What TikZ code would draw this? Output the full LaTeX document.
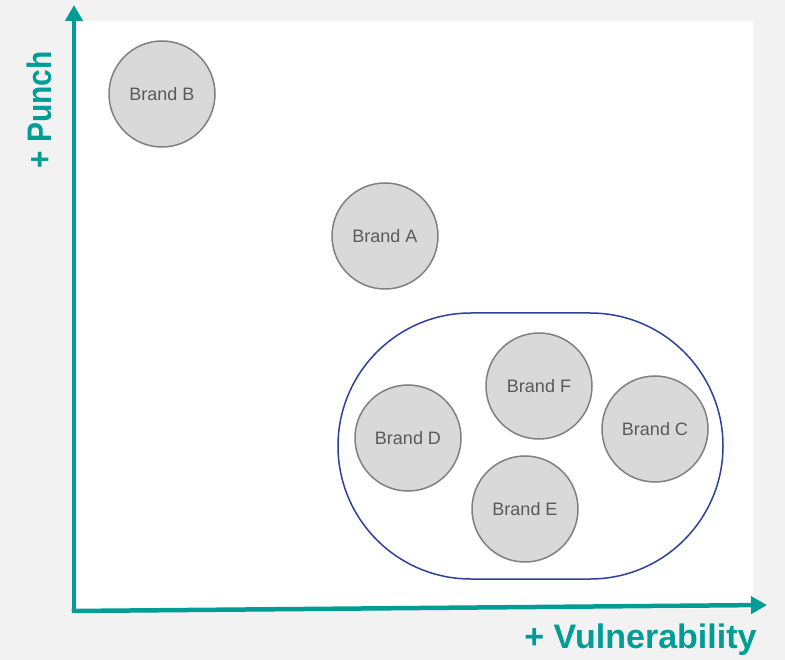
\documentclass[tikz,border=0pt]{standalone}
\usepackage{fontspec}
\setmainfont{Liberation Sans}
\newcommand*{\brandfont}{\fontsize{18}{20}\selectfont}
\newcommand*{\axisfont}{\bfseries\fontsize{34}{36}\selectfont}
\definecolor{teal}{HTML}{009C96}
\definecolor{backgrey}{HTML}{F2F2F2}
\definecolor{circlegrey}{HTML}{D9D9D9}
\definecolor{bordergrey}{HTML}{808080}
\definecolor{textgrey}{HTML}{595959}
\definecolor{groupblue}{HTML}{2F3F9C}
\usepackage{tikz}
\usetikzlibrary{arrows.meta}
\tikzstyle{base}=[x=1pt, y=-1pt, inner sep=0pt, outer sep=0pt]
\tikzstyle{brand}=[circle, draw=bordergrey, fill=circlegrey, line width=1.5pt, minimum size=106pt, text=textgrey, font=\brandfont]
\tikzstyle{axis}=[teal, line width=4.5pt, -{Triangle[length=16pt, width=17pt]}]
\tikzstyle{axislabel}=[text=teal, font=\axisfont]

\begin{document}
\begin{tikzpicture}[base]
    % page and plot area
    \fill [backgrey] (0,0) rectangle (785,660);
    \fill [white] (74,21) rectangle (753,609);
    \path [use as bounding box] (0,0) rectangle (785,660);
    % group of similar brands
    \node [draw=groupblue, line width=1.5pt, rounded corners=133pt, minimum width=385pt, minimum height=266pt] (group) at (530.5,446) {};
    % brands
    \node [brand] (B) at (162,94) {Brand B};
    \node [brand] (A) at (385,236) {Brand A};
    \node [brand] (F) at (539,386) {Brand F};
    \node [brand] (D) at (408,438) {Brand D};
    \node [brand] (C) at (655,429) {Brand C};
    \node [brand] (E) at (525,509) {Brand E};
    % axes
    \coordinate (origin) at (74,611);
    \coordinate (ytip) at (74,5);
    \coordinate (xtip) at (767,605);
    \draw [axis] (origin) -- (ytip);
    \draw [axis] ([xshift=-2.25pt]origin) -- (xtip);
    \node [axislabel, rotate=90] (punch) at (39,110) {\scalebox{0.88}[1]{+ Punch}};
    \node [axislabel] (vuln) at (640.5,640) {+ Vulnerability};
\end{tikzpicture}
\end{document}
